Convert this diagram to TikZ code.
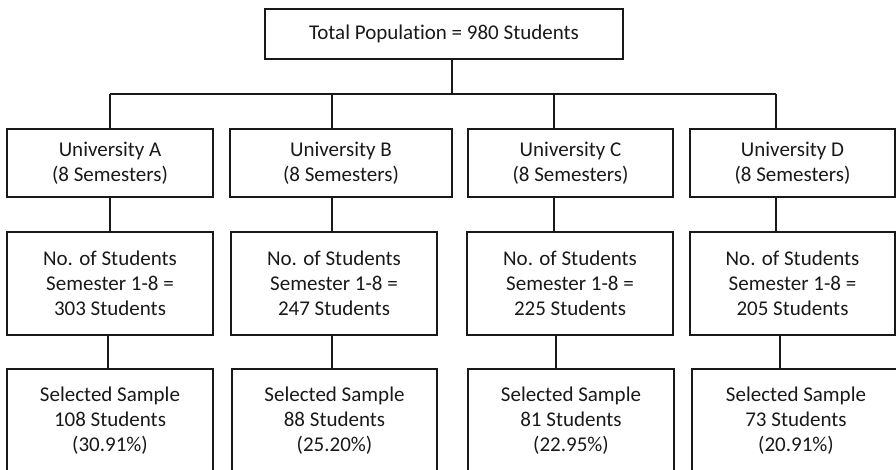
\documentclass[tikz,border=0pt]{standalone}
\usepackage{fontspec}
\setmainfont[Ligatures=NoCommon]{Carlito}
\begin{document}
\begin{tikzpicture}[x=1pt,y=-1pt,
  box/.style={draw=black!90,line width=2.3pt,rectangle,inner sep=0pt,align=center,
    font=\fontsize{21}{25}\selectfont,text=black!90},
  conn/.style={draw=black!90,line width=2.3pt}]
\useasboundingbox (0,0) rectangle (896,470);
\clip (0,0) rectangle (896,470);
% top
\node[box,minimum width=358pt,minimum height=50pt] (top) at (444,34) {Total Population = 980 Students};
% universities
\node[box,minimum width=206pt,minimum height=68pt] (uA) at (110,163) {University A\\(8 Semesters)};
\node[box,minimum width=222pt,minimum height=68pt] (uB) at (341,163) {University B\\(8 Semesters)};
\node[box,minimum width=205pt,minimum height=68pt] (uC) at (570.5,163) {University C\\(8 Semesters)};
\node[box,minimum width=205pt,minimum height=68pt] (uD) at (792.5,163) {University D\\(8 Semesters)};
% numbers
\node[box,minimum width=206pt,minimum height=103pt] (nA) at (110,283.5) {No. of Students\\Semester 1-8 =\\303 Students};
\node[box,minimum width=206pt,minimum height=103pt] (nB) at (334,283.5) {No. of Students\\Semester 1-8 =\\247 Students};
\node[box,minimum width=206pt,minimum height=103pt] (nC) at (570,283.5) {No. of Students\\Semester 1-8 =\\225 Students};
\node[box,minimum width=205pt,minimum height=103pt] (nD) at (792.5,283.5) {No. of Students\\Semester 1-8 =\\205 Students};
% samples
\node[box,minimum width=206pt,minimum height=103pt] (sA) at (110,420.5) {Selected Sample\\108 Students\\(30.91\%)};
\node[box,minimum width=205pt,minimum height=103pt] (sB) at (334.5,420.5) {Selected Sample\\88 Students\\(25.20\%)};
\node[box,minimum width=206pt,minimum height=103pt] (sC) at (571,420.5) {Selected Sample\\81 Students\\(22.95\%)};
\node[box,minimum width=208pt,minimum height=103pt] (sD) at (796,420.5) {Selected Sample\\73 Students\\(20.91\%)};
% connectors
\coordinate (t) at (452,94);
\coordinate (bA) at (110,94);
\coordinate (bB) at (332,94);
\coordinate (bC) at (554,94);
\coordinate (bD) at (776,94);
\coordinate (cA) at (108,0);
\coordinate (cB) at (332,0);
\coordinate (cC) at (556,0);
\coordinate (cD) at (780,0);
\draw[conn] (t |- top.south) -- (t);
\draw[conn] (bA) -- (bD);
\foreach \u in {A,B,C,D}{
  \draw[conn] (b\u) -- (b\u |- u\u.north);
  \draw[conn] (b\u |- u\u.south) -- (b\u |- n\u.north);
  \draw[conn] (c\u |- n\u.south) -- (c\u |- s\u.north);
}
\end{tikzpicture}
\end{document}
